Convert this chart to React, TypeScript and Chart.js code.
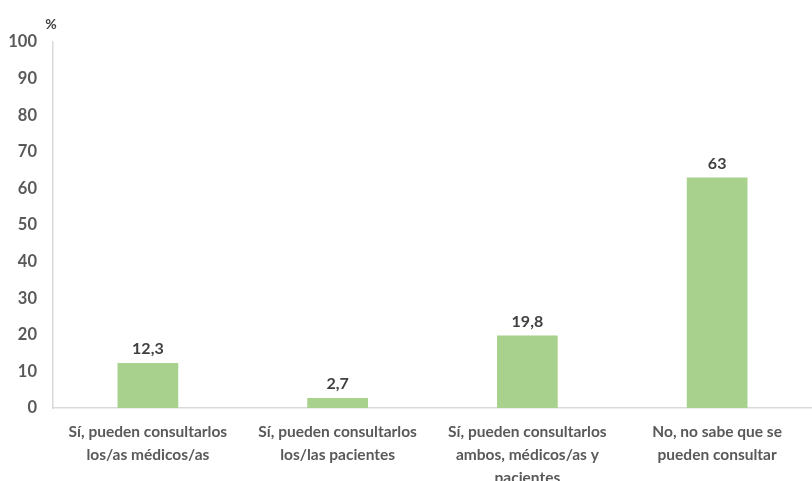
import React, { useEffect, useRef } from "react";
import { Chart, registerables } from "chart.js";

Chart.register(...registerables);

const categories: string[][] = [
  ["Sí, pueden consultarlos", "los/as médicos/as"],
  ["Sí, pueden consultarlos", "los/las pacientes"],
  ["Sí, pueden consultarlos", "ambos, médicos/as y", "pacientes"],
  ["No, no sabe que se", "pueden consultar"],
];
const values: number[] = [12.3, 2.7, 19.8, 63];
const yTicks: number[] = [0, 10, 20, 30, 40, 50, 60, 70, 80, 90, 100];
const unitLabel = "%";

const FONT = "Lato, 'Open Sans', sans-serif";

const labelPlugin = {
  id: "valueLabels",
  afterDatasetsDraw(chart: any) {
    const ctx = chart.ctx;
    const meta = chart.getDatasetMeta(0);
    ctx.save();
    ctx.font = `bold 16px ${FONT}`;
    ctx.fillStyle = "#404040";
    ctx.textAlign = "center";
    ctx.textBaseline = "bottom";
    meta.data.forEach((bar: any, i: number) => {
      const v = values[i];
      const txt = v.toString().replace(".", ",");
      ctx.fillText(txt, bar.x, bar.y - 6);
    });
    const yScale = chart.scales.y;
    ctx.textAlign = "center";
    ctx.textBaseline = "middle";
    ctx.font = `bold 14px ${FONT}`;
    ctx.fillStyle = "#404040";
    ctx.fillText(unitLabel, yScale.right - 2, yScale.getPixelForValue(100) - 18);
    ctx.restore();
  },
};

export default function App() {
  const ref = useRef<HTMLCanvasElement>(null);
  useEffect(() => {
    if (!ref.current) return;
    const chart = new Chart(ref.current, {
      type: "bar",
      data: {
        labels: categories,
        datasets: [
          {
            data: values,
            backgroundColor: "#a9d18e",
            categoryPercentage: 1,
            barPercentage: 0.32,
          },
        ],
      },
      options: {
        animation: false,
        responsive: false,
        maintainAspectRatio: false,
        layout: { padding: { top: 42, right: 0, left: 0, bottom: 0 } },
        plugins: { legend: { display: false }, tooltip: { enabled: false } },
        scales: {
          x: {
            grid: { display: false },
            border: { display: true, color: "#d9d9d9", width: 1.5 },
            ticks: {
              color: "#595959",
              font: { family: FONT, size: 15.5, weight: "bold", lineHeight: 1.5 },
              padding: 4,
              maxRotation: 0,
              autoSkip: false,
            },
            afterFit(scale: any) {
              scale.height = 73;
            },
          },
          y: {
            min: 0,
            max: 100,
            afterBuildTicks(scale: any) {
              scale.ticks = yTicks.map((v) => ({ value: v }));
            },
            grid: { display: false },
            border: { display: true, color: "#d9d9d9", width: 1.5 },
            ticks: {
              color: "#595959",
              font: { family: FONT, size: 16.5, weight: "bold" },
              padding: 8,
            },
            afterFit(scale: any) {
              scale.width = 53;
            },
          },
        },
      },
      plugins: [labelPlugin],
    });
    return () => chart.destroy();
  }, []);
  return (
    <div style={{ position: "fixed", left: 0, top: 0, width: 812, height: 481, background: "#fff" }}>
      <canvas ref={ref} width={812} height={481} />
    </div>
  );
}
